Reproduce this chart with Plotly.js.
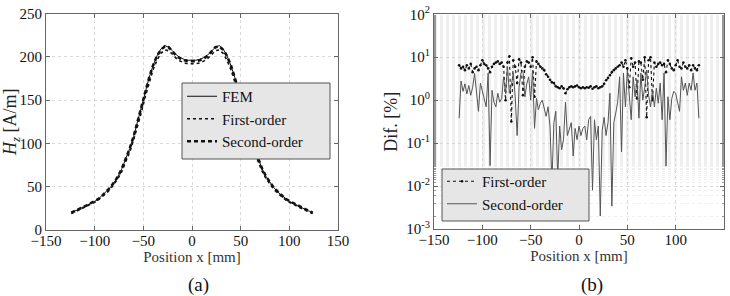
<!DOCTYPE html>
<html>
<head>
<meta charset="utf-8">
<script src="https://cdn.plot.ly/plotly-3.0.1.min.js"></script>
<style>html,body{margin:0;padding:0;background:#fff;}#chart{width:730px;height:296px;}</style>
</head>
<body>
<div id="chart"></div>
<script>
// ---- Panel (a): Hz [A/m] vs position ----
const posA = [-124,-120,-116,-112,-108,-104,-100,-96,-92,-88,-84,-80,-76,-72,-68,-64,-60,-56,-52,-48,-44,-40,-36,-32,-28,-24,-20,-16,-12,-8,-4,0,
  4,8,12,16,20,24,28,32,36,40,44,48,52,56,60,64,68,72,76,80,84,88,92,96,100,104,108,112,116,120,124];
const hzFEM = [20,22,24,26,28.5,31,33,36,40,44,49,55,62,71,82,94,108,124,141,159,176,190,201,209,213,211,207,202,199,197,196,196,
  196,197,199,202,207,211,213,209,201,190,176,159,141,124,108,94,82,71,62,55,49,44,40,36,33,31,28.5,26,24,22,20];
const hzFirst = [19,21,23,25,27.5,30,32,35,38.5,42.5,47,53,59.5,68,78.5,90,104,119,136,154,171,185,196,204,208,207,203,198,195,193,192,192,
  192,193,195,198,203,207,208,204,196,185,171,154,136,119,104,90,78.5,68,59.5,53,47,42.5,38.5,35,32,30,27.5,25,23,21,19];
const hzSecond = [20,22,24,26.5,28.5,31,33.5,36,40,44.5,49,55,62,71,82,94,108,124,141,159,176,190,201,208,212,211,206,201,198,196,195,195,
  195,196,198,201,206,211,212,208,201,190,176,159,141,124,108,94,82,71,62,55,49,44.5,40,36,33.5,31,28.5,26.5,24,22,20];

// ---- Panel (b): difference [%] vs position ----
const posB = [-124,-122,-120,-118,-116,-114,-112,-110,-108,-106,-104,-102,-100,-98,-96,-94,-92,-90,-88,-86,-84,-82,-80,-78,-76,-74,-72,-70,-68,-66,-64,-62,-60,-58,-56,-54,-52,-50,-48,-46,-44,-42,-40,-38,-36,-34,-32,-30,-28,-26,-24,-22,-20,-18,-16,-14,-12,-10,-8,-6,-4,-2,0,
  2,4,6,8,10,12,14,16,18,20,22,24,26,28,30,32,34,36,38,40,42,44,46,48,50,52,54,56,58,60,62,64,66,68,70,72,74,76,78,80,82,84,86,88,90,92,94,96,98,100,102,104,106,108,110,112,114,116,118,120,122,124];
const difFirst = [6.5,5.5,6.0,5.0,6.5,5.5,7.0,4.5,5.5,6.0,5.0,6.5,8.5,7.0,6.5,5.5,4.5,6.0,7.0,7.5,8.0,7.0,7.5,6.0,1.0,7.5,10.5,0.32,8.5,6.0,2.5,9.0,7.5,1.3,6.0,8.0,7.5,6.0,10.0,1.2,8.0,7.0,6.0,5.5,5.0,4.0,3.5,3.0,2.6,2.5,2.1,2.0,1.9,2.1,1.9,1.45,1.8,2.0,2.1,2.0,2.1,2.2,2.0,
  1.9,2.0,1.9,2.0,1.95,2.1,1.85,2.0,2.1,1.9,2.0,2.1,2.4,2.9,3.3,3.8,4.5,5.0,5.5,6.0,6.5,7.5,6.0,8.5,5.5,2.0,9.5,6.0,7.5,1.1,8.0,7.5,3.0,10.0,0.4,8.5,10.0,1.0,7.5,6.0,7.0,7.5,6.5,7.0,4.5,8.5,7.0,5.5,5.0,6.5,8.5,6.0,5.5,7.5,6.0,5.5,6.5,5.0,6.5,5.5,5.0,6.5];
const difSecond = [0.38,2.8,1.6,2.4,1.4,2.2,1.3,2.0,4.2,1.2,0.55,2.5,1.6,1.1,0.7,4.3,0.03,1.7,0.9,0.7,1.45,0.9,1.1,3.5,1.45,6.0,1.45,2.2,4.3,1.2,0.15,2.0,4.3,5.0,1.2,2.4,3.5,1.0,5.0,0.22,1.1,0.6,0.85,1.0,0.6,0.42,0.7,0.25,0.012,0.3,0.55,0.015,0.25,0.07,0.12,0.9,0.15,0.22,0.3,0.05,0.22,0.12,0.25,
  0.15,0.22,0.25,0.12,0.35,0.42,0.008,0.35,0.12,0.25,0.002,0.2,0.4,0.15,0.3,1.45,0.0034,0.3,0.5,0.9,3.5,0.063,4.3,0.7,5.0,1.5,0.35,3.5,1.2,3.0,0.38,4.3,1.0,2.0,5.0,1.3,0.7,1.7,0.7,1.9,0.85,2.5,0.35,4.3,0.029,1.2,0.35,1.1,1.6,1.45,0.9,0.55,3.5,1.7,2.5,1.3,2.5,1.7,4.3,1.7,2.5,0.38];

const xTicks = [-150,-100,-50,0,50,100,150];
const logTickVals = [0.001,0.01,0.1,1,10,100];
const logTickText = ['10<sup>-3</sup>','10<sup>-2</sup>','10<sup>-1</sup>','10<sup>0</sup>','10<sup>1</sup>','10<sup>2</sup>'];

const W = 730, H = 296;
const px = v => v / W;
const py = v => (H - v) / H;
const FONT = 'Liberation Serif, Times New Roman, serif';

const traces = [
  {x: posA, y: hzFEM, name: 'FEM', mode: 'lines', line: {color: '#111', width: 1}, xaxis: 'x', yaxis: 'y', legend: 'legend'},
  {x: posA, y: hzFirst, name: 'First-order', mode: 'lines', line: {color: '#111', width: 1.6, dash: 'dot'}, xaxis: 'x', yaxis: 'y', legend: 'legend'},
  {x: posA, y: hzSecond, name: 'Second-order', mode: 'lines', line: {color: '#111', width: 2.6, dash: '4px,3px'}, xaxis: 'x', yaxis: 'y', legend: 'legend'},
  {x: posB, y: difFirst, name: 'First-order', mode: 'lines+markers', line: {color: '#111', width: 1.1, dash: 'dot'}, marker: {color: '#111', size: 2.6}, xaxis: 'x2', yaxis: 'y2', legend: 'legend2'},
  {x: posB, y: difSecond, name: 'Second-order', mode: 'lines', line: {color: '#555', width: 1}, xaxis: 'x2', yaxis: 'y2', legend: 'legend2'}
];

const gridCol = '#d9d9d9';
const axBase = {
  showline: true, linecolor: '#666', linewidth: 1, mirror: 'ticks',
  ticks: 'inside', ticklen: 4, tickcolor: '#666',
  showgrid: true, gridcolor: gridCol, griddash: 'dot', gridwidth: 1,
  zeroline: false, tickfont: {family: FONT, size: 15, color: '#111'},
  fixedrange: true
};

const layout = {
  width: W, height: H,
  margin: {l: 0, r: 0, t: 0, b: 0},
  paper_bgcolor: '#fff', plot_bgcolor: '#fff',
  font: {family: FONT, size: 15, color: '#111'},
  xaxis: Object.assign({}, axBase, {
    domain: [px(46), px(338)], anchor: 'y', range: [-150, 150],
    tickvals: xTicks, ticklabelstandoff: -3,
    title: {text: 'Position x [mm]', font: {family: FONT, size: 15, color: '#333'}, standoff: 0}
  }),
  yaxis: Object.assign({}, axBase, {
    domain: [py(230), py(13.5)], anchor: 'x', range: [0, 250], dtick: 50,
    title: {text: '<i>H</i><sub><i>z</i></sub> [A/m]', font: {family: FONT, size: 18, color: '#222'}, standoff: 3}
  }),
  xaxis2: Object.assign({}, axBase, {
    domain: [px(434), px(724)], anchor: 'y2', range: [-150, 150],
    tickvals: xTicks, ticklabelstandoff: -3,
    title: {text: 'Position x [mm]', font: {family: FONT, size: 15, color: '#333'}, standoff: 0}
  }),
  yaxis2: Object.assign({}, axBase, {
    domain: [py(229), py(14.3)], anchor: 'x2', type: 'log', range: [-3, 2],
    tickvals: logTickVals, ticktext: logTickText,
    minor: {showgrid: true, gridcolor: '#efefef', griddash: 'dot', ticks: 'inside', ticklen: 2, tickcolor: '#999'},
    title: {text: 'Dif. [%]', font: {family: FONT, size: 18, color: '#222'}, standoff: 3}
  }),
  shapes: [
    {type: 'rect', xref: 'paper', yref: 'paper', x0: px(182), x1: px(330), y0: py(159), y1: py(83),
     fillcolor: '#e6e6e6', line: {color: '#555', width: 1}, layer: 'above'},
    {type: 'rect', xref: 'paper', yref: 'paper', x0: px(442), x1: px(589), y0: py(221), y1: py(169),
     fillcolor: '#e6e6e6', line: {color: '#555', width: 1}, layer: 'above'}
  ],
  legend: {
    x: px(182), y: py(80), xanchor: 'left', yanchor: 'top',
    bgcolor: 'rgba(0,0,0,0)', borderwidth: 0,
    font: {family: FONT, size: 15, color: '#111'}, itemwidth: 30, tracegroupgap: 0
  },
  legend2: {
    x: px(442), y: py(165), xanchor: 'left', yanchor: 'top',
    bgcolor: 'rgba(0,0,0,0)', borderwidth: 0,
    font: {family: FONT, size: 15, color: '#111'}, itemwidth: 30, tracegroupgap: 0
  },
  showlegend: true,
  annotations: [
    {text: '(a)', x: px(198), y: py(285), xref: 'paper', yref: 'paper', xanchor: 'center', yanchor: 'middle', showarrow: false, font: {family: FONT, size: 19, color: '#111'}},
    {text: '(b)', x: px(592), y: py(285), xref: 'paper', yref: 'paper', xanchor: 'center', yanchor: 'middle', showarrow: false, font: {family: FONT, size: 19, color: '#111'}}
  ]
};

Plotly.newPlot('chart', traces, layout, {displayModeBar: false, staticPlot: true});
</script>
</body>
</html>
